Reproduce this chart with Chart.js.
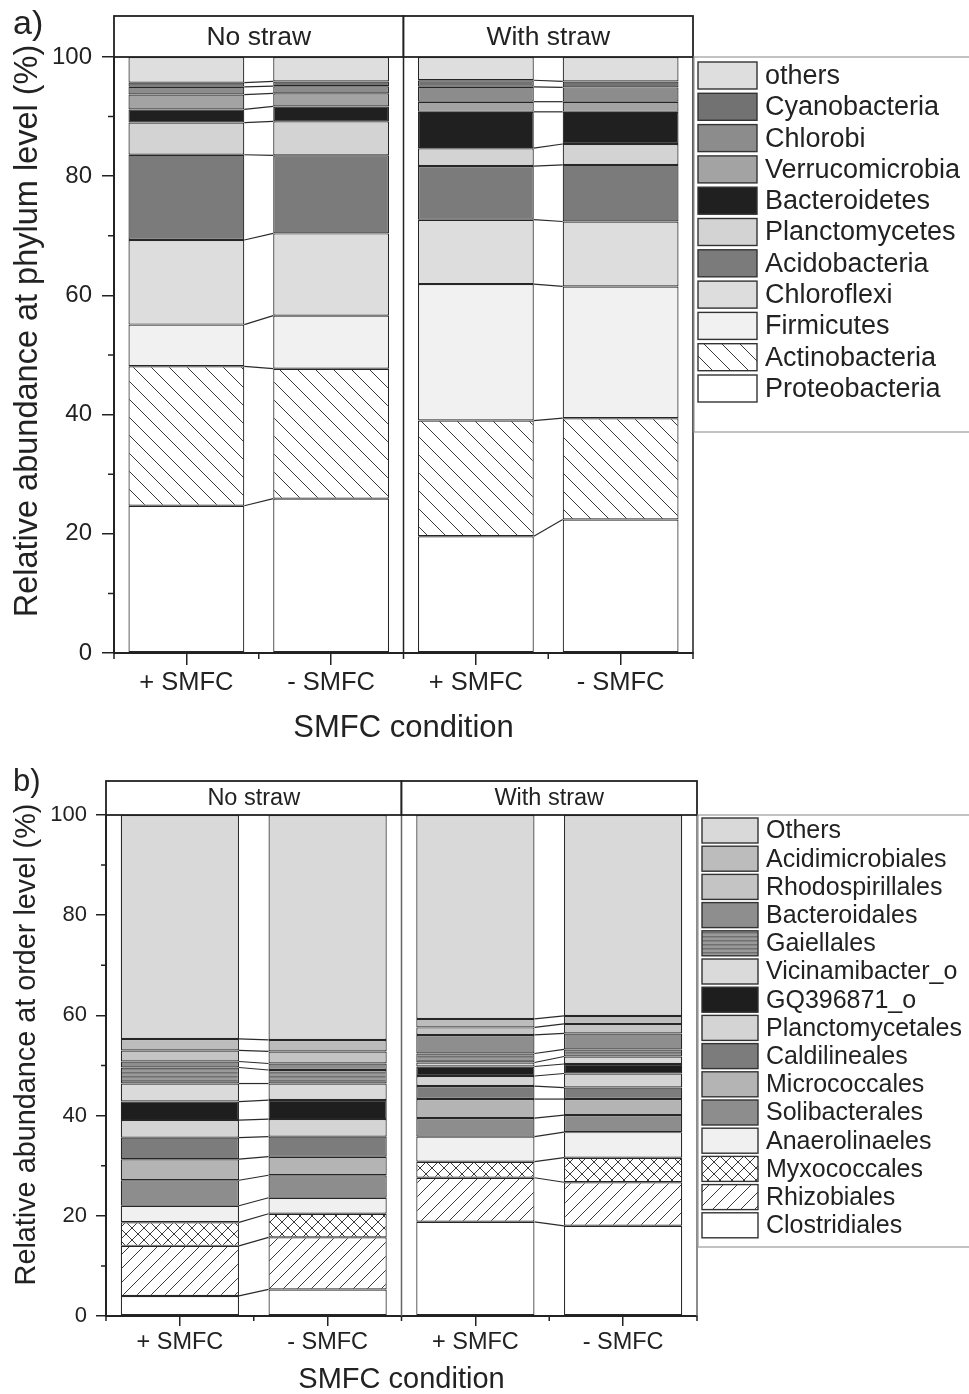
<!DOCTYPE html>
<html>
<head>
<meta charset="utf-8">
<script src="https://cdn.jsdelivr.net/npm/chart.js@4.4.1/dist/chart.umd.min.js"></script>
<style>
  html, body { margin: 0; padding: 0; background: #fff; }
  canvas { display: block; }
</style>
</head>
<body>
<canvas id="phylum" width="969" height="760"></canvas>
<canvas id="order" width="969" height="634"></canvas>
<script>
// x categories and the two straw groups (two bars per group)
const conditions = ['+ SMFC', '- SMFC', '+ SMFC', '- SMFC'];
const strawGroups = ['No straw', 'With straw'];
const yTicks = [0, 20, 40, 60, 80, 100];

// a) phylum level, listed from the bottom of each stack to the top
const phyla = ['Proteobacteria', 'Actinobacteria', 'Firmicutes', 'Chloroflexi', 'Acidobacteria',
  'Planctomycetes', 'Bacteroidetes', 'Verrucomicrobia', 'Chlorobi', 'Cyanobacteria', 'others'];
const phylaNoStrawPlus  = [24.7, 23.4, 7.0, 14.2, 14.3, 5.4, 2.2, 2.5, 1.3, 0.7, 4.3];
const phylaNoStrawMinus = [25.9, 21.8, 8.9, 13.8, 13.1, 5.7, 2.5, 2.2, 1.2, 0.8, 4.1];
const phylaStrawPlus    = [19.6, 19.4, 22.9, 10.8, 9.0, 3.0, 6.1, 1.7, 2.5, 1.1, 3.9];
const phylaStrawMinus   = [22.4, 17.0, 22.1, 10.9, 9.5, 3.5, 5.4, 1.7, 2.4, 1.0, 4.1];

// b) order level, bottom to top
const orders = ['Clostridiales', 'Rhizobiales', 'Myxococcales', 'Anaerolinaeles', 'Solibacterales',
  'Micrococcales', 'Caldilineales', 'Planctomycetales', 'GQ396871_o', 'Vicinamibacter_o',
  'Gaiellales', 'Bacteroidales', 'Rhodospirillales', 'Acidimicrobiales', 'Others'];
const ordersNoStrawPlus  = [4.0, 10.0, 4.7, 3.3, 5.1, 4.2, 4.3, 3.5, 3.7, 3.6, 3.2, 1.2, 2.2, 2.3, 44.7];
const ordersNoStrawMinus = [5.3, 10.4, 4.7, 3.2, 4.5, 3.7, 4.0, 3.5, 3.8, 3.3, 2.7, 1.3, 2.4, 2.3, 44.9];
const ordersStrawPlus    = [18.8, 8.8, 3.2, 5.0, 3.7, 3.8, 2.6, 2.0, 1.9, 0.8, 1.8, 3.7, 1.5, 1.7, 40.7];
const ordersStrawMinus   = [18.0, 8.7, 4.9, 5.1, 3.4, 3.2, 2.3, 2.8, 1.9, 1.5, 1.4, 3.2, 1.9, 1.6, 40.1];

const FONT = '"Liberation Sans", Arial, Helvetica, sans-serif';
const INK = '#222';

// small tiles for the hatched fills
function hatch(kind, size) {
  const c = document.createElement('canvas');
  c.width = size; c.height = size;
  const g = c.getContext('2d');
  g.fillStyle = '#fff';
  g.fillRect(0, 0, size, size);
  g.strokeStyle = '#3a3a3a';
  g.lineWidth = 1;
  g.beginPath();
  for (let k = -1; k <= 1; k++) {
    if (kind === 'back' || kind === 'cross') {
      g.moveTo(k * size, 0); g.lineTo(k * size + size, size);
    }
    if (kind === 'fwd' || kind === 'cross') {
      g.moveTo(k * size + size, 0); g.lineTo(k * size, size);
    }
  }
  g.stroke();
  return g.createPattern(c, 'repeat');
}

function stripes(base, line) {
  const c = document.createElement('canvas');
  c.width = 4; c.height = 4;
  const g = c.getContext('2d');
  g.fillStyle = base; g.fillRect(0, 0, 4, 4);
  g.fillStyle = line; g.fillRect(0, 0, 4, 1.5);
  return g.createPattern(c, 'repeat');
}

const phylaFills = ['#ffffff', hatch('back', 18), '#f1f1f1', '#dddddd', '#7b7b7b',
  '#d3d3d3', '#202020', '#a3a3a3', '#8c8c8c', '#727272', '#dedede'];
const orderFills = ['#ffffff', hatch('fwd', 14), hatch('cross', 12), '#f0f0f0', '#8d8d8d',
  '#b4b4b4', '#7c7c7c', '#d4d4d4', '#1e1e1e', '#dadada', stripes('#9a9a9a', '#707070'),
  '#8e8e8e', '#c4c4c4', '#bcbcbc', '#d9d9d9'];

// headers, connectors, minor ticks, y title and legend
const panelDecor = {
  id: 'panelDecor',
  afterDatasetsDraw(chart, args, o) {
    const ctx = chart.ctx;
    const area = chart.chartArea;
    const xs = chart.scales.x, ys = chart.scales.y;
    const midX = (xs.getPixelForValue(1) + xs.getPixelForValue(2)) / 2;
    const n = chart.data.datasets.length;
    ctx.save();

    // lines joining the stack boundaries of the two bars in each group
    ctx.strokeStyle = '#2a2a2a';
    ctx.lineWidth = 1.2;
    for (let d = 0; d < n - 1; d++) {
      const bars = chart.getDatasetMeta(d).data;
      [[0, 1], [2, 3]].forEach(([a, b]) => {
        const p = bars[a], q = bars[b];
        ctx.beginPath();
        ctx.moveTo(p.x + p.width / 2, p.y);
        ctx.lineTo(q.x - q.width / 2, q.y);
        ctx.stroke();
      });
    }

    // group divider and right frame
    const top = area.top - o.headerH;
    ctx.strokeStyle = o.frameColor;
    ctx.lineWidth = 1.5;
    ctx.beginPath();
    ctx.moveTo(midX, area.top); ctx.lineTo(midX, area.bottom);
    ctx.moveTo(area.right, area.top); ctx.lineTo(area.right, area.bottom);
    ctx.stroke();

    // header boxes
    ctx.strokeStyle = INK;
    ctx.lineWidth = 1.8;
    ctx.fillStyle = '#fff';
    const boxes = [[area.left, midX], [midX, area.right]];
    boxes.forEach(([l, r], i) => {
      ctx.fillRect(l, top, r - l, o.headerH);
      ctx.strokeRect(l, top, r - l, o.headerH);
      ctx.fillStyle = INK;
      ctx.font = o.headerFont + 'px ' + FONT;
      ctx.textAlign = 'center';
      ctx.textBaseline = 'middle';
      ctx.fillText(strawGroups[i], (l + r) / 2, top + o.headerH / 2 + 1);
      ctx.fillStyle = '#fff';
    });

    // minor ticks
    ctx.strokeStyle = INK;
    ctx.lineWidth = 1.5;
    ctx.beginPath();
    for (let v = 10; v < 100; v += 20) {
      const py = ys.getPixelForValue(v);
      ctx.moveTo(area.left - o.minorTick, py); ctx.lineTo(area.left, py);
    }
    for (let i = 0; i <= conditions.length; i++) {
      const px = xs.getPixelForValue(i - 0.5);
      ctx.moveTo(px, area.bottom); ctx.lineTo(px, area.bottom + o.minorTick);
    }
    ctx.stroke();

    // y title
    ctx.fillStyle = INK;
    ctx.font = o.yTitleFont + 'px ' + FONT;
    ctx.textAlign = 'center';
    ctx.textBaseline = 'middle';
    ctx.save();
    ctx.translate(o.yTitleX, (area.top + area.bottom) / 2 + o.yTitleShift);
    ctx.rotate(-Math.PI / 2);
    ctx.fillText(o.yTitle, 0, 0);
    ctx.restore();

    // panel letter
    ctx.font = o.letterFont + 'px ' + FONT;
    ctx.textAlign = 'left';
    ctx.textBaseline = 'alphabetic';
    ctx.fillText(o.letter, 13, o.letterY);

    // legend, top entry is the top of the stack
    const lx = area.right + 1;
    ctx.strokeStyle = '#9a9a9a';
    ctx.lineWidth = 1.2;
    ctx.strokeRect(lx, area.top, 400, o.legendH);
    ctx.font = o.legendFont + 'px ' + FONT;
    ctx.textBaseline = 'middle';
    for (let k = 0; k < n; k++) {
      const ds = chart.data.datasets[n - 1 - k];
      const sy = area.top + o.legendPad + k * o.legendStep;
      ctx.fillStyle = ds.backgroundColor;
      ctx.fillRect(lx + 4, sy, o.swatchW, o.swatchH);
      ctx.strokeStyle = '#333';
      ctx.lineWidth = 1.4;
      ctx.strokeRect(lx + 4, sy, o.swatchW, o.swatchH);
      ctx.fillStyle = INK;
      ctx.fillText(ds.label, lx + o.swatchW + 12, sy + o.swatchH / 2 + 1);
    }
    ctx.restore();
  }
};

function buildChart(id, taxa, bars, fills, look) {
  const canvas = document.getElementById(id);
  const datasets = taxa.map((name, i) => ({
    label: name,
    data: bars.map(b => b[i]),
    backgroundColor: fills[i],
    borderColor: '#262626',
    borderWidth: 1.2,
    borderSkipped: false,
    barPercentage: 0.8,
    categoryPercentage: 1.0
  }));

  return new Chart(canvas, {
    type: 'bar',
    data: { labels: conditions, datasets: datasets },
    options: {
      responsive: false,
      animation: false,
      devicePixelRatio: 1,
      layout: { padding: { left: 0, right: canvas.width - look.right, top: look.top, bottom: 0 } },
      plugins: {
        legend: { display: false },
        tooltip: { enabled: false },
        panelDecor: look
      },
      scales: {
        x: {
          stacked: true,
          offset: true,
          grid: { offset: false, drawOnChartArea: false, tickLength: look.majorTick, color: INK, lineWidth: 1.5 },
          border: { display: true, color: INK, width: 2 },
          ticks: { color: INK, padding: look.xTickPad, maxRotation: 0, autoSkip: false,
                   font: { family: FONT, size: look.tickFont } },
          title: { display: true, text: 'SMFC condition', color: INK,
                   font: { family: FONT, size: look.xTitleFont, lineHeight: 1 },
                   padding: { top: 0, bottom: look.xTitlePad } },
          afterFit: s => { s.height = canvas.height - look.bottom; }
        },
        y: {
          stacked: true,
          min: 0,
          max: 100,
          afterBuildTicks: s => { s.ticks = yTicks.map(v => ({ value: v })); },
          grid: { drawOnChartArea: false, tickLength: look.majorTick, color: INK, lineWidth: 1.5 },
          border: { display: true, color: INK, width: 2 },
          ticks: { color: INK, padding: look.yTickPad, font: { family: FONT, size: look.yTickFont } },
          afterFit: s => { s.width = look.left; }
        }
      }
    },
    plugins: [panelDecor]
  });
}

buildChart('phylum', phyla,
  [phylaNoStrawPlus, phylaNoStrawMinus, phylaStrawPlus, phylaStrawMinus], phylaFills, {
    left: 114, right: 693, top: 57, bottom: 653,
    headerH: 41, headerFont: 26.5, frameColor: INK,
    majorTick: 12, minorTick: 6, tickFont: 25.5, yTickFont: 24, xTickPad: 3, yTickPad: 10,
    xTitleFont: 31, xTitlePad: 16,
    yTitle: 'Relative abundance at phylum level (%)', yTitleFont: 32.5, yTitleX: 28, yTitleShift: -24,
    letter: 'a)', letterFont: 34, letterY: 34,
    legendH: 375, legendPad: 5, legendStep: 31.3, swatchW: 59, swatchH: 27, legendFont: 27
  });

buildChart('order', orders,
  [ordersNoStrawPlus, ordersNoStrawMinus, ordersStrawPlus, ordersStrawMinus], orderFills, {
    left: 106, right: 697, top: 55, bottom: 556,
    headerH: 34, headerFont: 23.5, frameColor: '#666',
    majorTick: 10, minorTick: 5, tickFont: 23.5, yTickFont: 22, xTickPad: 2, yTickPad: 9,
    xTitleFont: 29, xTitlePad: 0,
    yTitle: 'Relative abundance at order level (%)', yTitleFont: 28.8, yTitleX: 27, yTitleShift: -21,
    letter: 'b)', letterFont: 31, letterY: 31,
    legendH: 432, legendPad: 3, legendStep: 28.2, swatchW: 56, swatchH: 25, legendFont: 25
  });
</script>
</body>
</html>
